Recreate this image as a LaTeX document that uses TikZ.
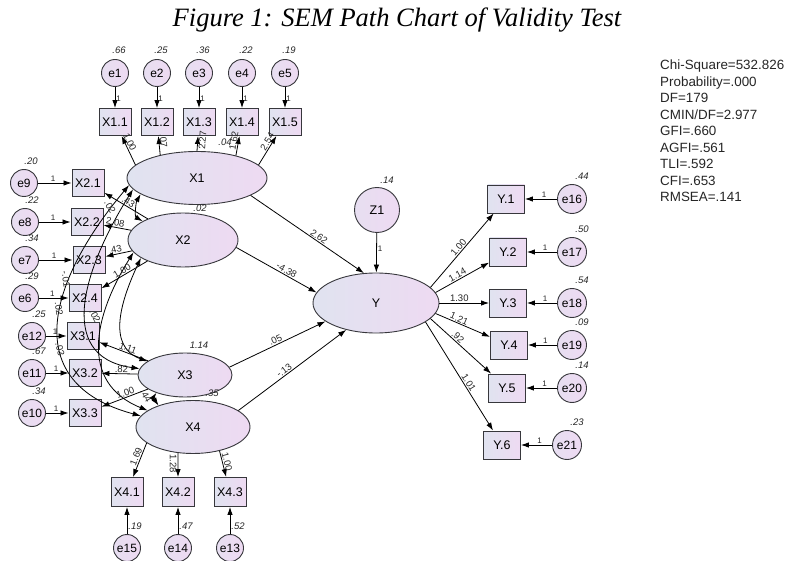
\documentclass[tikz,border=0pt]{standalone}
\usepackage{fontspec}
\setmainfont{Liberation Sans}
\newfontfamily\titlefont{Liberation Serif}
\usetikzlibrary{arrows.meta,calc,shapes.geometric}
\definecolor{fillL}{RGB}{224,227,240}
\definecolor{fillR}{RGB}{238,218,242}
\definecolor{outl}{RGB}{55,55,60}
\tikzset{
 lat/.style={ellipse, draw=outl, line width=0.9pt, left color=fillL, right color=fillR, inner sep=0pt, font=\fontsize{12.5}{14}\selectfont},
 obs/.style={rectangle, draw=outl, line width=0.9pt, left color=fillL, right color=fillR, inner sep=0pt, minimum width=32pt, minimum height=27pt, font=\fontsize{12.5}{14}\selectfont},
 yobs/.style={obs, minimum width=37pt, minimum height=28pt},
 err/.style={circle, draw=outl, line width=0.9pt, left color=fillL!50!fillR, right color=fillR, inner sep=0pt, minimum size=27pt, font=\fontsize{12}{13}\selectfont},
 arr/.style={-{Latex[length=8pt,width=5.5pt]}, line width=0.8pt},
 cov/.style={{Latex[length=8pt,width=5.5pt]}-{Latex[length=8pt,width=5.5pt]}, line width=0.8pt},
 lab/.style={font=\fontsize{9.5}{11}\selectfont, inner sep=1pt, text=black!85},
 one/.style={font=\fontsize{8}{9}\selectfont, inner sep=1pt, text=black!85},
 var/.style={font=\fontsize{9.5}{11}\itshape, inner sep=0pt, text=black!85},
 stat/.style={anchor=base west, inner sep=0pt, font=\fontsize{13.4}{16}\selectfont, text=black!85},
}
\begin{document}
\begin{tikzpicture}[x=1pt,y=1pt]
\useasboundingbox (0,0) rectangle (792,-561);
\fill[white] (0,0) rectangle (792,-561);
% title
\node[anchor=base, inner sep=0pt, font=\titlefont\itshape\fontsize{26.5}{30}\selectfont] (title) at (397,-27) {Figure 1: SEM Path Chart of Validity Test};
% fit statistics
\foreach \s [count=\k from 0] in {Chi-Square=532.826, Probability=.000, DF=179, CMIN/DF=2.977, GFI=.660, AGFI=.561, TLI=.592, CFI=.653, RMSEA=.141}
  \node[stat] (s\k) at (660,{-70-16.5*\k}) {\s};
% latent variables
\node[lat, minimum width=140pt, minimum height=53pt] (X1) at (197,-178) {X1};
\node[lat, minimum width=110pt, minimum height=54pt] (X2) at (183,-240) {X2};
\node[lat, minimum width=94pt, minimum height=44pt] (X3) at (185,-375) {X3};
\node[lat, minimum width=114pt, minimum height=53pt] (X4) at (193,-427) {X4};
\node[lat, minimum width=126pt, minimum height=60pt] (Y) at (376,-303) {Y};
\node[err, minimum size=45pt, font=\fontsize{12.5}{14}\selectfont] (Z1) at (377,-210) {Z1};
\node[var] (vZ1) at (387,-180) {.14};
\node[var] (vX1) at (225,-142) {.04};
\node[var] (vX2) at (200,-208) {.02};
\node[var] (vX3) at (199,-345) {1.14};
\node[var] (vX4) at (212,-393) {.35};
% X1 indicators (top)
\foreach \i/\x/\va/\ld/\ang/\sd in {1/115/.66/1.00/168/above, 2/157/.25/.07/148/above, 3/199/.36/2.27/90/below, 4/242/.22/1.62/30/above, 5/285/.19/2.54/12/above} {
  \node[err] (e\i) at (\x,-73) {e\i};
  \node[obs] (X1\i) at (\x,-122) {X1.\i};
  \node[var] (ve\i) at ($(e\i)+(4,23)$) {\va};
  \draw[arr] (e\i) -- node[one, pos=.55, right] {1} (X1\i);
  \draw[arr] (X1.\ang) -- node[lab, sloped, pos=.72, \sd] {\ld} (X1\i);
}
% left indicators
\node[err] (e9) at (24,-183) {e9};   \node[obs] (X21) at (88,-183) {X2.1};
\node[err] (e8) at (25,-222) {e8};   \node[obs] (X22) at (87,-222) {X2.2};
\node[err] (e7) at (25,-260) {e7};   \node[obs] (X23) at (89,-260) {X2.3};
\node[err] (e6) at (25,-298) {e6};   \node[obs] (X24) at (85,-298) {X2.4};
\node[err] (e12) at (32,-336) {e12}; \node[obs] (X31) at (83,-336) {X3.1};
\node[err] (e11) at (32,-373) {e11}; \node[obs] (X32) at (85,-373) {X3.2};
\node[err] (e10) at (32,-413) {e10}; \node[obs] (X33) at (85,-413) {X3.3};
\foreach \e/\b/\va in {e9/X21/.20, e8/X22/.22, e7/X23/.34, e6/X24/.29, e12/X31/.25, e11/X32/.67, e10/X33/.34} {
  \node[var] (v\e) at ($(\e)+(7,22)$) {\va};
  \draw[arr] (\e) -- node[one, pos=.45, above] {1} (\b);
}
% covariances among exogenous latent variables
\draw[cov] (X1.186) to[out=230, in=165, looseness=1.4] (X4.168);
\draw[cov] (X1.190) to[out=238, in=172, looseness=1.25] (X3.172);
\draw[cov] (X2.194) to[out=238, in=158, looseness=1.2] (X4.160);
\draw[cov] (X2.203) to[out=245, in=160, looseness=1.1] (X3.160);
\draw[cov] (X1.196) to[out=240, in=150, looseness=0.9] (X2.155);
\draw[cov] (X3.212) to[out=235, in=125, looseness=1.2] (X4.148);
\node[lab, rotate=-82] (c13) at (66,-279) {-.01};
\node[lab, rotate=-82] (c14) at (59,-309) {.02};
\node[lab, rotate=-62] (c23) at (95,-316) {.02};
\node[lab, rotate=-75] (c24) at (60,-349) {.03};
\node[lab, rotate=-60] (c12) at (110,-207) {.02};
\node[lab, rotate=-60] (c34) at (146,-396) {.44};
% X2 and X3 loadings
\draw[arr] (X2) -- node[lab, sloped, pos=.5, above] {.43} (X21);
\draw[arr] (X2) -- node[lab, sloped, pos=.6, above] {2.08} (X22);
\draw[arr] (X2) -- node[lab, sloped, pos=.6, above] {.43} (X23);
\draw[arr] (X2) -- node[lab, sloped, pos=.5, above] {1.00} (X24);
\draw[arr] (X3) -- node[lab, sloped, pos=.45, above] {1.11} (X31);
\draw[arr] (X3) -- node[lab, sloped, pos=.45, above] {.82} (X32);
\draw[arr] (X3) -- node[lab, sloped, pos=.45, above] {1.00} (X33);
% X4 indicators (bottom)
\foreach \i/\x/\va/\ld/\ang/\sd/\num in {1/127/.19/1.69/199/above/15, 2/178/.47/1.28/240/below/14, 3/230/.52/1.00/318/above/13} {
  \node[obs, minimum height=29pt] (X4\i) at (\x,-492) {X4.\i};
  \node[err] (e\num) at (\x,-548) {e\num};
  \node[var] (ve\num) at ($(e\num)+(8,22)$) {\va};
  \draw[arr] (e\num) -- (X4\i);
  \draw[arr] (X4.\ang) -- node[lab, sloped, pos=.45, \sd] {\ld} (X4\i);
}
% structural paths
\draw[arr] (X1.-18) -- node[lab, sloped, pos=.58, above] {2.62} (Y.112);
\draw[arr] (X2.-8) -- node[lab, sloped, pos=.6, above] {-4.38} (Y.170);
\draw[arr] (X3.10) -- node[lab, sloped, pos=.5, above] {.05} (Y.200);
\draw[arr] (X4.20) -- node[lab, sloped, pos=.45, above] {-.13} (Y.222);
\draw[arr] (Z1) -- node[one, pos=.4, right] {1} (Y);
% Y indicators (right)
\foreach \i/\yx/\y/\ex/\num/\va/\ld/\ang/\ps in {1/506/199/572/16/.44/1.00/16/.5, 2/508/252/572/17/.50/1.14/10/.45, 3/508/303/572/18/.54/1.30/0/.4, 4/509/345/572/19/.09/1.21/-10/.4, 5/507/388/572/20/.14/.92/-16/.4, 6/502/445/567/21/.23/1.01/-21/.58} {
  \node[yobs] (Y\i) at (\yx,-\y) {Y.\i};
  \node[err, minimum size=29pt] (e\num) at (\ex,-\y) {e\num};
  \node[var] (ve\num) at ($(e\num)+(10,23)$) {\va};
  \draw[arr] (e\num) -- node[one, pos=.4, above] {1} (Y\i);
  \draw[arr] (Y.\ang) -- node[lab, sloped, pos=\ps, above] {\ld} (Y\i);
}
\end{tikzpicture}
\end{document}
